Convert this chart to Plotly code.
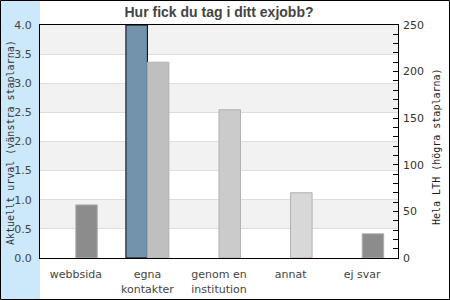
import plotly.graph_objects as go

categories = ["webbsida", "egna<br>kontakter", "genom en<br>institution", "annat", "ej svar"]
current_values = [0, 4.0, 0, 0, 0]
lth_values = [57, 210, 159, 70, 26]
lth_colors = ["#8c8c8c", "#bfbfbf", "#cbcbcb", "#d8d8d8", "#8c8c8c"]
left_ticks = [0, 0.5, 1.0, 1.5, 2.0, 2.5, 3.0, 3.5, 4.0]
right_ticks = [0, 50, 100, 150, 200, 250]
title_text = "Hur fick du tag i ditt exjobb?"
left_title = "Aktuellt urval (vänstra staplarna)"
right_title = "Hela LTH (högra staplarna)"

W, H = 450, 300
ml, mr, mt, mb = 40, 52, 25, 42
pw, ph = W - ml - mr, H - mt - mb

def px(x):
    return (x - ml) / pw

def py(y):
    return (H - mb - y) / ph

fig = go.Figure()
fig.add_trace(go.Bar(
    x=categories, y=current_values, yaxis="y", offsetgroup="a",
    marker=dict(color="#7393ad",
                line=dict(color="black", width=[1 if v > 0 else 0 for v in current_values])),
    showlegend=False, hoverinfo="skip"))
fig.add_trace(go.Bar(
    x=categories, y=lth_values, yaxis="y2", offsetgroup="b",
    marker=dict(color=lth_colors,
                line=dict(color="#b0b0b0", width=[1 if v > 0 else 0 for v in lth_values])),
    showlegend=False, hoverinfo="skip"))

shapes = []
# left blue panel
shapes.append(dict(type="rect", xref="paper", yref="paper", layer="below",
                   x0=px(1), x1=px(40), y0=py(299), y1=py(1),
                   fillcolor="#cce8fb", line=dict(width=0)))
# alternating bands
for i in range(1, len(left_ticks) - 1, 2):
    shapes.append(dict(type="rect", xref="paper", yref="y", layer="below",
                       x0=0, x1=1, y0=left_ticks[i], y1=left_ticks[i + 1],
                       fillcolor="#f2f2f2", line=dict(width=0)))
# outer border
shapes.append(dict(type="rect", xref="paper", yref="paper", layer="above",
                   x0=px(0.5), x1=px(449.5), y0=py(299.5), y1=py(0.5),
                   line=dict(color="black", width=1)))

annotations = [
    dict(text=left_title, xref="paper", yref="paper", x=px(10), y=py(143),
         textangle=-90, showarrow=False, xanchor="center", yanchor="middle",
         font=dict(family="DejaVu Sans Mono", size=10, color="#333")),
    dict(text=right_title, xref="paper", yref="paper", x=px(436), y=py(147),
         textangle=-90, showarrow=False, xanchor="center", yanchor="middle",
         font=dict(family="DejaVu Sans Mono", size=10, color="#222")),
]

fig.update_layout(
    width=W, height=H,
    margin=dict(l=ml, r=mr, t=mt, b=mb, pad=0, autoexpand=False),
    paper_bgcolor="white", plot_bgcolor="rgba(0,0,0,0)",
    barmode="group", bargap=0.4, bargroupgap=0,
    title=dict(text="<b>" + title_text + "</b>", x=0.5, xref="paper", xanchor="center",
               y=1 - 12 / H, yanchor="middle",
               font=dict(family="Liberation Sans", size=14, color="#444")),
    font=dict(family="DejaVu Sans", size=11, color="#444"),
    xaxis=dict(showline=True, linecolor="black", linewidth=1, mirror=True,
               ticks="", showgrid=False, ticklabelstandoff=6, automargin=False,
               tickfont=dict(size=11, color="#444")),
    yaxis=dict(range=[0, 4], tickvals=left_ticks, tickformat=".1f",
               showline=True, linecolor="black", linewidth=1, mirror=True,
               showgrid=True, gridcolor="#dddddd", gridwidth=1, zeroline=False,
               ticks="", ticklabelstandoff=5, automargin=False,
               tickfont=dict(size=11, color="#444")),
    yaxis2=dict(range=[0, 250], tickvals=right_ticks, overlaying="y", side="right",
                showgrid=False, zeroline=False, showline=False, automargin=False,
                ticks="inside", ticklen=5, tickcolor="black", ticklabelstandoff=4,
                minor=dict(dtick=10, ticks="inside", ticklen=5, tickcolor="black"),
                tickfont=dict(size=11, color="#333")),
    shapes=shapes, annotations=annotations,
)

fig.write_html("out.html")
